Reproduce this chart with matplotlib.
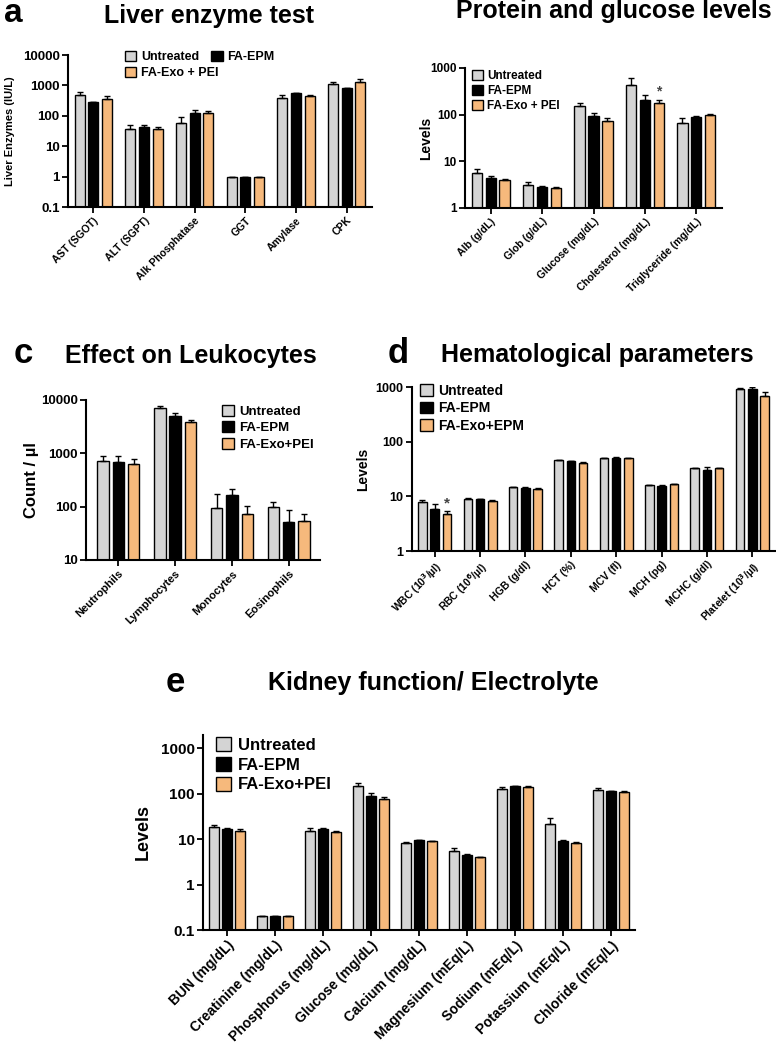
import numpy as np
import matplotlib
matplotlib.use("Agg")
import matplotlib.pyplot as plt
from matplotlib.patches import Patch

plt.rcParams['font.family'] = ['Liberation Sans', 'DejaVu Sans']
plt.rcParams['font.weight'] = 'bold'
plt.rcParams['axes.labelweight'] = 'bold'

# colours of the three groups
col_untr = "#d4d4d4"
col_epm = "#000000"
col_exo = "#f6b97c"

# panel a - liver enzymes
a_cats = ["AST (SGOT)", "ALT (SGPT)", "Alk Phosphatase", "GGT", "Amylase", "CPK"]
a_untr = [468, 38, 57, 1, 372, 1100]
a_untr_err = [590, 49, 88, 1, 480, 1330]
a_epm = [282, 44, 125, 1, 550, 800]
a_epm_err = [290, 48, 150, 1, 570, 820]
a_exo = [354, 37, 120, 1, 435, 1290]
a_exo_err = [435, 42, 142, 1, 470, 1580]

# panel b - protein and glucose
b_cats = ["Alb (g/dL)", "Glob (g/dL)", "Glucose (mg/dL)", "Cholesterol (mg/dL)", "Triglyceride (mg/dL)"]
b_untr = [5.6, 3.06, 150, 432, 66]
b_untr_err = [6.9, 3.67, 177, 611, 85]
b_epm = [4.4, 2.82, 92, 210, 88]
b_epm_err = [4.9, 2.96, 107, 267, 94]
b_exo = [4.05, 2.73, 74, 178, 100]
b_exo_err = [4.25, 2.77, 85, 210, 105]

# panel c - leukocytes
c_cats = ["Neutrophils", "Lymphocytes", "Monocytes", "Eosinophils"]
c_untr = [730, 6960, 96, 100]
c_untr_err = [880, 7800, 172, 123]
c_epm = [678, 5000, 166, 52]
c_epm_err = [880, 5780, 211, 87]
c_exo = [622, 3870, 74, 55]
c_exo_err = [790, 4160, 104, 74]

# panel d - hematology
d_cats = ["WBC (10$^3$/µl)", "RBC (10$^6$/µl)", "HGB (g/dl)", "HCT (%)", "MCV (fl)",
          "MCH (pg)", "MCHC (g/dl)", "Platelet (10$^3$/µl)"]
d_untr = [7.9, 9.1, 14.8, 45.5, 50, 15.9, 32.5, 931]
d_untr_err = [8.7, 9.3, 15.1, 46.5, 51, 16.2, 33.2, 960]
d_epm = [5.95, 8.8, 14.0, 44.5, 50.5, 15.5, 30.7, 905]
d_epm_err = [7.1, 9.0, 14.6, 45.2, 51.5, 16.2, 34, 980]
d_exo = [4.8, 8.2, 13.6, 41.5, 50, 16.6, 32.5, 675]
d_exo_err = [5.3, 8.5, 14.0, 42.8, 51, 17.0, 33.2, 800]

# panel e - kidney / electrolytes
e_cats = ["BUN (mg/dL)", "Creatinine (mg/dL)", "Phosphorus (mg/dL)", "Glucose (mg/dL)",
          "Calcium (mg/dL)", "Magnesium (mEq/L)", "Sodium (mEq/L)", "Potassium (mEq/L)",
          "Chloride (mEq/L)"]
e_untr = [18, 0.2, 15, 148, 8.0, 5.5, 124, 21, 122]
e_untr_err = [20.3, 0.2, 17.7, 172, 8.7, 6.5, 137, 29.5, 130]
e_epm = [16.6, 0.2, 16.3, 89, 9.3, 4.5, 145, 9.0, 112]
e_epm_err = [17.2, 0.2, 17.5, 105, 9.5, 4.8, 148, 9.3, 114]
e_exo = [15.3, 0.2, 14.5, 75, 9.0, 3.95, 143, 8.3, 110]
e_exo_err = [16.6, 0.2, 15.3, 86, 9.2, 4.1, 146, 8.7, 112]

W, H = 776, 1050
fig = plt.figure(figsize=(W / 100, H / 100), dpi=100)


def make_ax(left, top, right, bottom):
    return fig.add_axes([left / W, 1 - bottom / H, (right - left) / W, (bottom - top) / H])


def bars(ax, cats, series, width=0.2, step=0.27):
    x = np.arange(len(cats))
    cols = [col_untr, col_epm, col_exo]
    for i, (vals, errs) in enumerate(series):
        xs = x + (i - 1) * step
        vals = np.array(vals)
        errs = np.array(errs)
        ax.bar(xs, vals, width, color=cols[i], edgecolor="black", linewidth=1.0, zorder=2)
        up = errs - vals
        ax.errorbar(xs, vals, yerr=[np.zeros_like(up), up], fmt="none", ecolor="black",
                    elinewidth=1.0, capsize=2.5, capthick=1.0, zorder=3)
    return x


def style(ax, x, cats, ylim, yticks, ytl, yfs, xfs, xlim):
    ax.set_yscale("log")
    ax.set_ylim(*ylim)
    ax.set_xlim(*xlim)
    ax.set_yticks(yticks)
    ax.set_yticklabels(ytl, fontsize=yfs, fontweight="bold")
    ax.minorticks_off()
    ax.set_xticks(x)
    ax.set_xticklabels(cats, rotation=45, ha="right", rotation_mode="anchor",
                       fontsize=xfs, fontweight="bold")
    for s in ["top", "right"]:
        ax.spines[s].set_visible(False)
    for s in ["left", "bottom"]:
        ax.spines[s].set_linewidth(1.5)
    ax.tick_params(width=1.3, length=4, direction="out", pad=2)


def legend(ax, labels, left, top, fs, ncol=1, order=None, colsp=0.6):
    handles = [Patch(facecolor=c, edgecolor="black", linewidth=1.0) for c in [col_untr, col_epm, col_exo]]
    if order is not None:
        handles = [handles[i] for i in order]
        labels = [labels[i] for i in order]
    ax.legend(handles, labels, loc="upper left", bbox_to_anchor=(left / W, 1 - top / H),
              bbox_transform=fig.transFigure, frameon=False, ncol=ncol,
              handlelength=0.9, handleheight=0.9, handletextpad=0.4, borderpad=0,
              borderaxespad=0, labelspacing=0.25, columnspacing=colsp,
              prop={"weight": "bold", "size": fs})


# a
ax = make_ax(68, 55, 372, 207)
x = bars(ax, a_cats, [(a_untr, a_untr_err), (a_epm, a_epm_err), (a_exo, a_exo_err)])
style(ax, x, a_cats, (0.1, 10000), [0.1, 1, 10, 100, 1000, 10000],
      ["0.1", "1", "10", "100", "1000", "10000"], 9.5, 7.5, (-0.5, 5.5))
ax.set_ylabel("Liver Enzymes (IU/L)", fontsize=8)
ax.yaxis.set_label_coords(-0.175, 0.5)
legend(ax, ["Untreated", "FA-EPM", "FA-Exo + PEI"], 125, 51, 9, ncol=2, order=[0, 2, 1], colsp=-0.6)

# b
ax = make_ax(465, 68, 722, 208)
x = bars(ax, b_cats, [(b_untr, b_untr_err), (b_epm, b_epm_err), (b_exo, b_exo_err)])
style(ax, x, b_cats, (1, 1000), [1, 10, 100, 1000], ["1", "10", "100", "1000"], 8.5, 7.5, (-0.5, 4.5))
ax.set_ylabel("Levels", fontsize=10)
ax.yaxis.set_label_coords(-0.125, 0.5)
ax.text(3 + 0.27, b_exo_err[3] * 1.08, "*", ha="center", va="bottom", fontsize=10, color="#444444")
legend(ax, ["Untreated", "FA-EPM", "FA-Exo + PEI"], 472, 70, 8.5)

# c
ax = make_ax(86, 400, 320, 560)
x = bars(ax, c_cats, [(c_untr, c_untr_err), (c_epm, c_epm_err), (c_exo, c_exo_err)])
style(ax, x, c_cats, (10, 10000), [10, 100, 1000, 10000], ["10", "100", "1000", "10000"],
      9.5, 8, (-0.57, 3.55))
ax.set_ylabel("Count / µl", fontsize=12)
ax.yaxis.set_label_coords(-0.2, 0.5)
legend(ax, ["Untreated", "FA-EPM", "FA-Exo+PEI"], 222, 405, 9.5)

# d
ax = make_ax(412, 387, 775, 551)
x = bars(ax, d_cats, [(d_untr, d_untr_err), (d_epm, d_epm_err), (d_exo, d_exo_err)],
         width=0.19, step=0.27)
style(ax, x, d_cats, (1, 1000), [1, 10, 100, 1000], ["1", "10", "100", "1000"], 9, 7.5, (-0.5, 7.5))
ax.set_ylabel("Levels", fontsize=10)
ax.yaxis.set_label_coords(-0.115, 0.5)
ax.text(0 + 0.27, d_exo_err[0] * 1.05, "*", ha="center", va="bottom", fontsize=11, color="#444444")
legend(ax, ["Untreated", "FA-EPM", "FA-Exo+EPM"], 420, 384, 10)

# e
ax = make_ax(203, 735, 635, 930)
x = bars(ax, e_cats, [(e_untr, e_untr_err), (e_epm, e_epm_err), (e_exo, e_exo_err)])
style(ax, x, e_cats, (0.1, 1940), [0.1, 1, 10, 100, 1000], ["0.1", "1", "10", "100", "1000"],
      11, 10, (-0.5, 8.5))
ax.set_ylabel("Levels", fontsize=13)
ax.yaxis.set_label_coords(-0.118, 0.5)
legend(ax, ["Untreated", "FA-EPM", "FA-Exo+PEI"], 216, 737, 12)


# titles and panel letters
def ftext(xp, yp, s, fs, ha="center"):
    fig.text(xp / W, 1 - yp / H, s, fontsize=fs, fontweight="bold", ha=ha, va="baseline")


ftext(209, 23, "Liver enzyme test", 18)
ftext(614, 18, "Protein and glucose levels", 18)
ftext(191, 363, "Effect on Leukocytes", 18)
ftext(597, 362, "Hematological parameters", 18)
ftext(433, 690, "Kidney function/ Electrolyte", 18)
ftext(4, 22, "a", 24, ha="left")
ftext(14, 363, "c", 25, ha="left")
ftext(388, 363, "d", 25, ha="left")
ftext(166, 692, "e", 25, ha="left")

fig.savefig("out.png", dpi=100)
